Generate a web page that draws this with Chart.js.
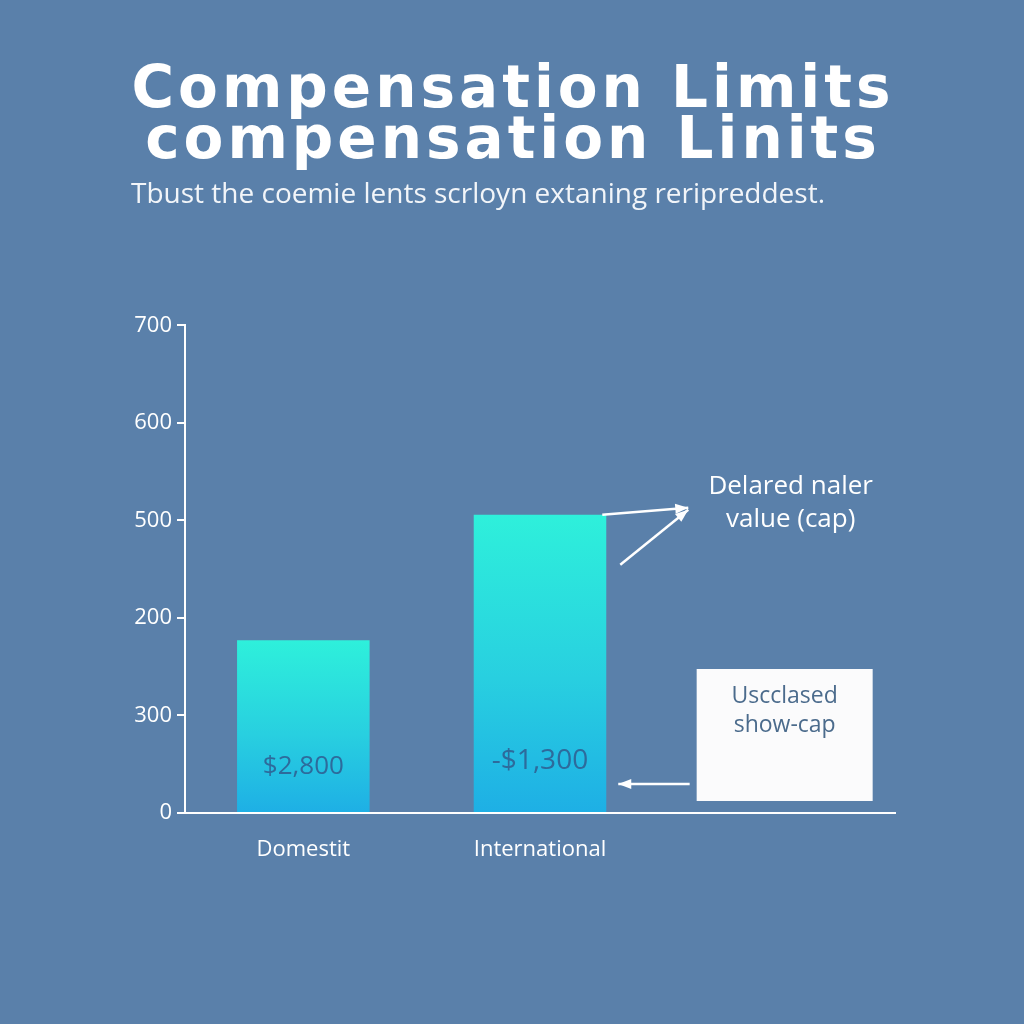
<!DOCTYPE html>
<html><head><meta charset="utf-8">
<script src="https://cdn.jsdelivr.net/npm/chart.js@4/dist/chart.umd.min.js"></script>
<style>html,body{margin:0;padding:0;background:#5a80aa;}#wrap{width:1024px;height:1024px;}</style>
</head><body><div id="wrap"><canvas id="c" width="1024" height="1024"></canvas></div>
<script>
const categories = ['Domestit', 'International', ''];
const values = [248, 428, null];
const valueLabels = ['$2,800', '-$1,300'];
const tickLabels = ['0', '300', '200', '500', '600', '700'];
const titleLines = ['Compensation Limits', 'compensation Linits'];
const subtitleText = 'Tbust the coemie lents scrloyn extaning reripreddest.';
const capNoteLines = ['Delared naler', 'value (cap)'];
const boxNoteLines = ['Uscclased', 'show-cap'];

const BG = '#5a80aa';
const FONT = '"Open Sans", "DejaVu Sans", sans-serif';
const TITLE_FONT = '"DejaVu Sans", sans-serif';

function barGradient(ctx) {
  const chart = ctx.chart;
  const ys = chart.scales.y;
  if (!ys || ctx.parsed == null || ctx.parsed.y == null) return '#27d0e0';
  const top = ys.getPixelForValue(ctx.parsed.y);
  const bot = ys.getPixelForValue(0);
  if (!isFinite(top) || !isFinite(bot)) return '#27d0e0';
  const g = chart.ctx.createLinearGradient(0, top, 0, bot);
  g.addColorStop(0, '#2ef0db');
  g.addColorStop(0.55, '#28cfe0');
  g.addColorStop(1, '#1eafe5');
  return g;
}

function arrow(ctx, x1, y1, x2, y2) {
  ctx.beginPath(); ctx.moveTo(x1, y1); ctx.lineTo(x2, y2); ctx.stroke();
  const a = Math.atan2(y2 - y1, x2 - x1), L = 13, W = 5;
  ctx.beginPath();
  ctx.moveTo(x2, y2);
  ctx.lineTo(x2 - L * Math.cos(a) + W * Math.sin(a), y2 - L * Math.sin(a) - W * Math.cos(a));
  ctx.lineTo(x2 - L * Math.cos(a) - W * Math.sin(a), y2 - L * Math.sin(a) + W * Math.cos(a));
  ctx.closePath(); ctx.fill();
}

const bgPlugin = {
  id: 'bg',
  beforeDraw(chart) {
    const c = chart.ctx; c.save(); c.fillStyle = BG; c.fillRect(0, 0, chart.width, chart.height); c.restore();
    // widen title letter spacing
    const tb = chart.titleBlock;
    if (tb && !tb._spaced) {
      const orig = tb.draw;
      tb.draw = function () {
        const cx = this.ctx || chart.ctx;
        cx.save();
        if ('letterSpacing' in cx) cx.letterSpacing = '4px';
        orig.apply(this, arguments);
        cx.restore();
      };
      tb._spaced = true;
    }
  }
};

const annotPlugin = {
  id: 'annot',
  afterDatasetsDraw(chart) {
    const c = chart.ctx, xs = chart.scales.x;
    const meta = chart.getDatasetMeta(0);
    c.save();
    c.textAlign = 'center'; c.textBaseline = 'middle';
    c.fillStyle = '#2d6b9c';
    meta.data.forEach((bar, i) => {
      if (!valueLabels[i]) return;
      c.font = (i === 1 ? '28px ' : '26px ') + FONT;
      c.fillText(valueLabels[i], bar.x, bar.base - (i === 1 ? 51 : 45));
    });
    const intl = meta.data[1];
    const right = intl.x + intl.width / 2;
    const top = intl.y;
    const base = intl.base;
    c.strokeStyle = '#ffffff'; c.fillStyle = '#ffffff'; c.lineWidth = 2.5;
    arrow(c, right - 4, top, right + 82, top - 7);
    arrow(c, right + 14, top + 50, right + 82, top - 5);
    const col3 = xs.getPixelForValue(2);
    c.font = '26px ' + FONT; c.fillStyle = '#ffffff';
    c.fillText(capNoteLines[0], col3 + 14, top - 28);
    c.fillText(capNoteLines[1], col3 + 14, top + 5);
    // box
    const bx = col3 - 80, bw = 176, bBot = base - 11, bTop = base - 143;
    c.fillStyle = '#fbfbfc';
    c.fillRect(bx, bTop, bw, bBot - bTop);
    c.fillStyle = '#4b6b8c'; c.font = '23px ' + FONT;
    c.fillText(boxNoteLines[0], bx + bw / 2, bTop + 27);
    c.fillText(boxNoteLines[1], bx + bw / 2, bTop + 56);
    c.strokeStyle = '#ffffff'; c.fillStyle = '#ffffff'; c.lineWidth = 2.5;
    arrow(c, bx - 7, base - 28, right + 12, base - 28);
    c.restore();
  }
};

new Chart(document.getElementById('c'), {
  type: 'bar',
  data: {
    labels: categories,
    datasets: [{
      data: values,
      backgroundColor: barGradient,
      borderWidth: 0,
      categoryPercentage: 1,
      barPercentage: 0.56
    }]
  },
  options: {
    responsive: false,
    animation: false,
    devicePixelRatio: 1,
    layout: { padding: { top: 66, left: 131, right: 129, bottom: 151 } },
    plugins: {
      legend: { display: false },
      tooltip: { enabled: false },
      title: {
        display: true,
        text: titleLines,
        color: '#ffffff',
        align: 'center',
        font: { family: TITLE_FONT, size: 58, weight: 'bold', lineHeight: 0.885 },
        padding: { top: 0, bottom: 10 }
      },
      subtitle: {
        display: true,
        text: subtitleText,
        color: '#f2f5f9',
        align: 'start',
        font: { family: FONT, size: 28, weight: '400', lineHeight: 1.2 },
        padding: { top: 0, bottom: 113 }
      }
    },
    scales: {
      x: {
        grid: { display: false, drawTicks: false },
        border: { display: true, color: '#ffffff', width: 2 },
        ticks: { color: '#ffffff', font: { family: FONT, size: 22 }, padding: 24 },
        afterFit(s) { s.height = 60; }
      },
      y: {
        min: 0, max: 700,
        grid: { display: true, drawOnChartArea: false, drawTicks: true, tickLength: 8, color: '#ffffff', lineWidth: 2 },
        border: { display: true, color: '#ffffff', width: 2 },
        ticks: {
          stepSize: 140,
          color: '#ffffff',
          font: { family: FONT, size: 22 },
          padding: 5,
          callback: (v, i) => tickLabels[i]
        },
        afterFit(s) { s.width = 54; }
      }
    }
  },
  plugins: [bgPlugin, annotPlugin]
});
</script>
</body></html>
